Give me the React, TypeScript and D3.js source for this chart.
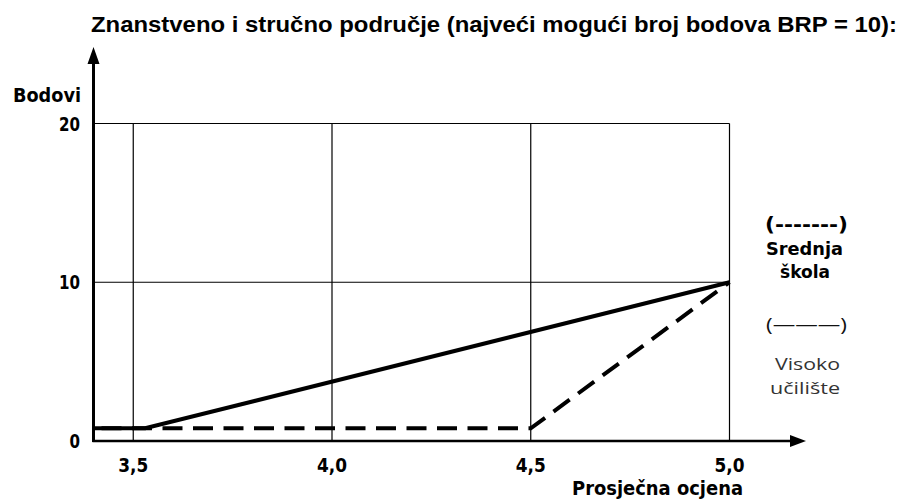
import { useEffect, useRef } from "react";
import * as d3 from "d3";

// values
const xTicks = [3.5, 4.0, 4.5, 5.0];
const xTickLabels = ["3,5", "4,0", "4,5", "5,0"];
const yTicks = [0, 10, 20];
const yTickLabels = ["0", "10", "20"];
const gridY = [10, 20];
const highSchool = [
  [3.4, 0.8],
  [4.5, 0.8],
  [5.0, 10],
];
const university = [
  [3.4, 0.8],
  [3.53, 0.8],
  [5.0, 10],
];

const titleText = "Znanstveno i stručno područje (najveći mogući broj bodova BRP = 10):";

function App() {
  const ref = useRef(null);

  useEffect(() => {
    const svg = d3.select(ref.current);
    svg.selectAll("*").remove();

    const x = d3.scaleLinear().domain([3.4, 5.0]).range([93.5, 729.5]);
    const y = d3.scaleLinear().domain([0, 20]).range([441, 123.5]);
    const pix = "'DejaVu Sans Condensed', 'DejaVu Sans', sans-serif";
    const calib = "'Open Sans', 'Noto Sans', sans-serif";

    // title
    svg
      .append("text")
      .attr("x", 91)
      .attr("y", 32)
      .attr("font-family", "'Liberation Sans', Arial, sans-serif")
      .attr("font-weight", "bold")
      .attr("font-size", 22)
      .attr("textLength", 806)
      .attr("lengthAdjust", "spacingAndGlyphs")
      .attr("fill", "#000")
      .text(titleText);

    // grid
    const g = svg.append("g").attr("stroke", "#000").attr("stroke-width", 1.2);
    g.selectAll("line.v")
      .data(xTicks)
      .enter()
      .append("line")
      .attr("x1", (d) => x(d))
      .attr("x2", (d) => x(d))
      .attr("y1", y(20))
      .attr("y2", y(0));
    g.selectAll("line.h")
      .data(gridY)
      .enter()
      .append("line")
      .attr("x1", x(3.4))
      .attr("x2", x(5.0))
      .attr("y1", (d) => y(d))
      .attr("y2", (d) => y(d));

    // axes with arrows
    svg
      .append("line")
      .attr("x1", x(3.4))
      .attr("x2", x(3.4))
      .attr("y1", y(0) + 1)
      .attr("y2", 58)
      .attr("stroke", "#000")
      .attr("stroke-width", 3);
    svg
      .append("path")
      .attr("d", `M${x(3.4)},47 L${x(3.4) - 6},64 L${x(3.4) + 6},64 Z`)
      .attr("fill", "#000");
    svg
      .append("line")
      .attr("x1", x(3.4) - 1)
      .attr("x2", 795)
      .attr("y1", y(0))
      .attr("y2", y(0))
      .attr("stroke", "#000")
      .attr("stroke-width", 2.5);
    svg
      .append("path")
      .attr("d", `M806,${y(0)} L790,${y(0) - 6} L790,${y(0) + 6} Z`)
      .attr("fill", "#000");

    // tick labels
    svg
      .selectAll("text.yt")
      .data(yTicks)
      .enter()
      .append("text")
      .attr("x", 80)
      .attr("y", (d) => y(d) + 7)
      .attr("text-anchor", "end")
      .attr("font-family", pix)
      .attr("font-weight", "bold")
      .attr("font-size", 20)
      .attr("textLength", (d, i) => yTickLabels[i].length * 10.5)
      .attr("lengthAdjust", "spacingAndGlyphs")
      .text((d, i) => yTickLabels[i]);
    svg
      .selectAll("text.xt")
      .data(xTicks)
      .enter()
      .append("text")
      .attr("x", (d) => x(d) - 15)
      .attr("y", 472)
      .attr("font-family", pix)
      .attr("font-weight", "bold")
      .attr("font-size", 20)
      .attr("textLength", 30)
      .attr("lengthAdjust", "spacingAndGlyphs")
      .text((d, i) => xTickLabels[i]);

    svg
      .append("text")
      .attr("x", 13)
      .attr("y", 102)
      .attr("font-family", pix)
      .attr("font-weight", "bold")
      .attr("font-size", 20)
      .attr("textLength", 68)
      .attr("lengthAdjust", "spacingAndGlyphs")
      .text("Bodovi");
    svg
      .append("text")
      .attr("x", 572)
      .attr("y", 495)
      .attr("font-family", pix)
      .attr("font-weight", "bold")
      .attr("font-size", 20)
      .attr("textLength", 171)
      .attr("lengthAdjust", "spacingAndGlyphs")
      .text("Prosječna ocjena");

    // series
    const line = d3
      .line()
      .x((d) => x(d[0]))
      .y((d) => y(d[1]));
    svg
      .append("path")
      .datum(highSchool)
      .attr("d", line)
      .attr("fill", "none")
      .attr("stroke", "#000")
      .attr("stroke-width", 4)
      .attr("stroke-dasharray", "20,10.5")
      .attr("stroke-dashoffset", 22.5);
    svg
      .append("path")
      .datum(university)
      .attr("d", line)
      .attr("fill", "none")
      .attr("stroke", "#000")
      .attr("stroke-width", 4);

    // legend
    const leg = [
      { t: "(-------)", x0: 765, y: 231, w: 83, f: pix, b: "bold", c: "#000", s: 19 },
      { t: "Srednja", x0: 766, y: 255, w: 77, f: pix, b: "bold", c: "#000", s: 18 },
      { t: "škola", x0: 780, y: 278, w: 50, f: pix, b: "bold", c: "#000", s: 18 },
      { t: "(———)", x0: 766, y: 331, w: 81, f: calib, b: "normal", c: "#111", s: 19 },
      { t: "Visoko", x0: 775, y: 370, w: 65, f: calib, b: "normal", c: "#333", s: 17 },
      { t: "učilište", x0: 770, y: 394, w: 70, f: calib, b: "normal", c: "#333", s: 17 },
    ];
    svg
      .selectAll("text.leg")
      .data(leg)
      .enter()
      .append("text")
      .attr("x", (d) => d.x0)
      .attr("y", (d) => d.y)
      .attr("font-family", (d) => d.f)
      .attr("font-weight", (d) => d.b)
      .attr("font-size", (d) => d.s)
      .attr("textLength", (d) => d.w)
      .attr("lengthAdjust", "spacingAndGlyphs")
      .attr("fill", (d) => d.c)
      .text((d) => d.t);
  }, []);

  return (
    <svg
      ref={ref}
      width={903}
      height={502}
      style={{ position: "absolute", left: 0, top: 0, background: "#fff" }}
    />
  );
}

export default App;
